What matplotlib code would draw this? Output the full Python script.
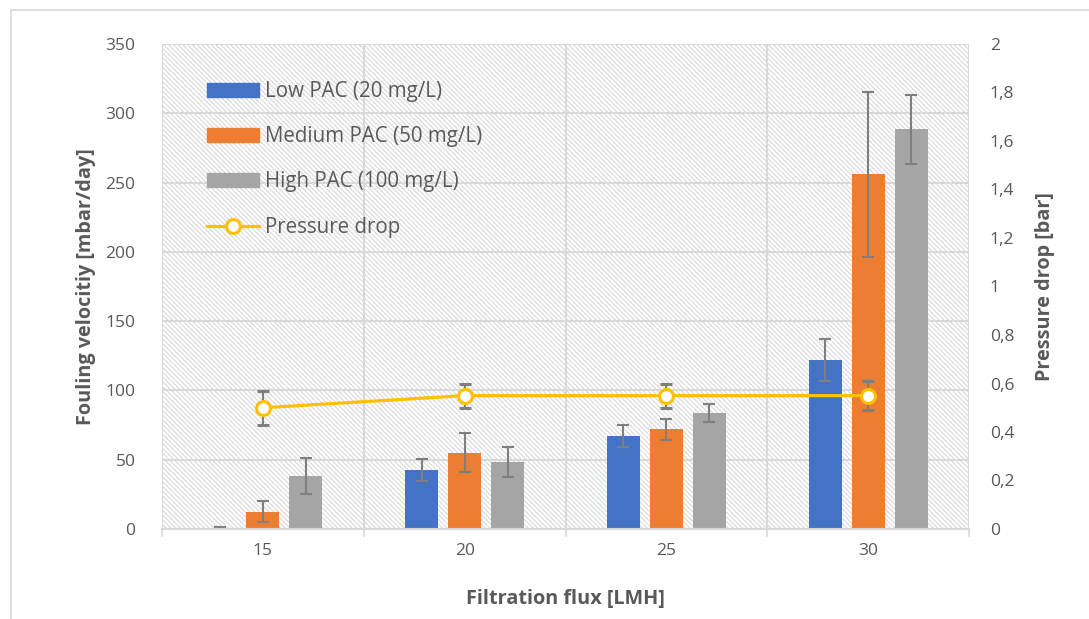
import matplotlib.pyplot as plt
from matplotlib.patches import Rectangle, Patch
from matplotlib.lines import Line2D
from matplotlib.ticker import FuncFormatter

plt.rcParams['font.family'] = ['Open Sans', 'DejaVu Sans']
plt.rcParams['hatch.color'] = '#e2e2e2'
plt.rcParams['hatch.linewidth'] = 0.8

# data
flux = ['15', '20', '25', '30']
series = ['Low PAC (20 mg/L)', 'Medium PAC (50 mg/L)', 'High PAC (100 mg/L)']
low = [1, 42.5, 67, 122]
low_err = [0.5, 8, 8, 15]
medium = [12.5, 55, 72, 256]
medium_err = [7.5, 14, 7.5, 59.5]
high = [38, 48.5, 84, 288.5]
high_err = [13, 11, 6.5, 25]
pressure = [0.5, 0.55, 0.55, 0.55]
pressure_err = [0.07, 0.05, 0.05, 0.06]

colors = ['#4472C4', '#ED7D31', '#A5A5A5']
txt = '#595959'
grid_c = '#d9d9d9'

fig = plt.figure(figsize=(10.89, 6.19), dpi=100)
ax = fig.add_axes([162 / 1089, 90 / 619, 807 / 1089, 485 / 619])
ax2 = ax.twinx()

# hatched plot background
ax.add_patch(Rectangle((0, 0), 1, 1, transform=ax.transAxes, facecolor='white',
                       edgecolor=grid_c, hatch='\\' * 7, linewidth=0, zorder=0.1))

x = list(range(len(flux)))
w = 0.163
off = 0.213
ekw = dict(ecolor='#7f7f7f', elinewidth=1.5, capsize=4.5, capthick=1.5)
for i, (vals, errs) in enumerate([(low, low_err), (medium, medium_err), (high, high_err)]):
    xs = [xi + (i - 1) * off for xi in x]
    ax.bar(xs, vals, width=w, color=colors[i], yerr=errs, error_kw=ekw, zorder=2)

ax2.errorbar(x, pressure, yerr=pressure_err, color='#FFC000', lw=2.3, marker='o',
             markersize=10, markerfacecolor='white', markeredgecolor='#FFC000',
             markeredgewidth=2.2, ecolor='#7f7f7f', elinewidth=1.5, capsize=4.5,
             capthick=1.5, zorder=3)

# axes ranges / ticks
ax.set_xlim(-0.5, 3.5)
ax.set_ylim(0, 350)
ax.set_yticks(range(0, 351, 50))
ax2.set_ylim(0, 2)
ax2.set_yticks([i * 0.2 for i in range(11)])
ax2.yaxis.set_major_formatter(FuncFormatter(lambda v, p: f'{v:.1f}'.rstrip('0').rstrip('.').replace('.', ',')))

ax.set_xticks([-0.5, 0.5, 1.5, 2.5, 3.5])
ax.set_xticklabels([])
ax.set_xticks(x, minor=True)
ax.set_xticklabels(flux, minor=True)
ax.tick_params(axis='x', which='major', length=6, width=1.2, color=grid_c)
ax.tick_params(axis='x', which='minor', length=0, pad=10, labelsize=12.5, labelcolor=txt)
ax.tick_params(axis='y', length=0, pad=19, labelsize=12.5, labelcolor=txt)
ax2.tick_params(axis='y', length=0, pad=15, labelsize=12.5, labelcolor=txt)

ax.grid(True, axis='y', color=grid_c, lw=1.5, zorder=0.5)
ax.grid(True, axis='x', which='major', color=grid_c, lw=1.5, zorder=0.5)
ax.set_axisbelow(True)
for a in (ax, ax2):
    for s in ('top', 'left', 'right'):
        a.spines[s].set_visible(False)
    a.spines['bottom'].set_color(grid_c)
    a.spines['bottom'].set_linewidth(1.5)

ax.set_xlabel('Filtration flux [LMH]', fontsize=14.3, fontweight='bold', color=txt, labelpad=22)
ax.set_ylabel('Fouling velocitiy [mbar/day]', fontsize=14.3, fontweight='bold', color=txt, labelpad=7)
ax2.set_ylabel('Pressure drop [bar]', fontsize=14.3, fontweight='bold', color=txt, labelpad=15)

handles = [Patch(color=c) for c in colors]
handles.append(Line2D([], [], color='#FFC000', lw=2.3, marker='o', markersize=10,
                      markerfacecolor='white', markeredgecolor='#FFC000', markeredgewidth=2.2))
leg = ax2.legend(handles, series + ['Pressure drop'], loc='upper left',
                 bbox_to_anchor=(0.033, 0.962), frameon=False, fontsize=14.8,
                 handlelength=2.5, handleheight=0.65, labelspacing=1.18, handletextpad=0.3)
for t in leg.get_texts():
    t.set_color(txt)

# chart border
fig.add_artist(Line2D([11 / 1089, 11 / 1089], [0, 1 - 10 / 619], color=grid_c, lw=1.2))
fig.add_artist(Line2D([11 / 1089, 1], [1 - 10 / 619, 1 - 10 / 619], color=grid_c, lw=1.2))

fig.savefig('out.png', dpi=100, facecolor='white')
